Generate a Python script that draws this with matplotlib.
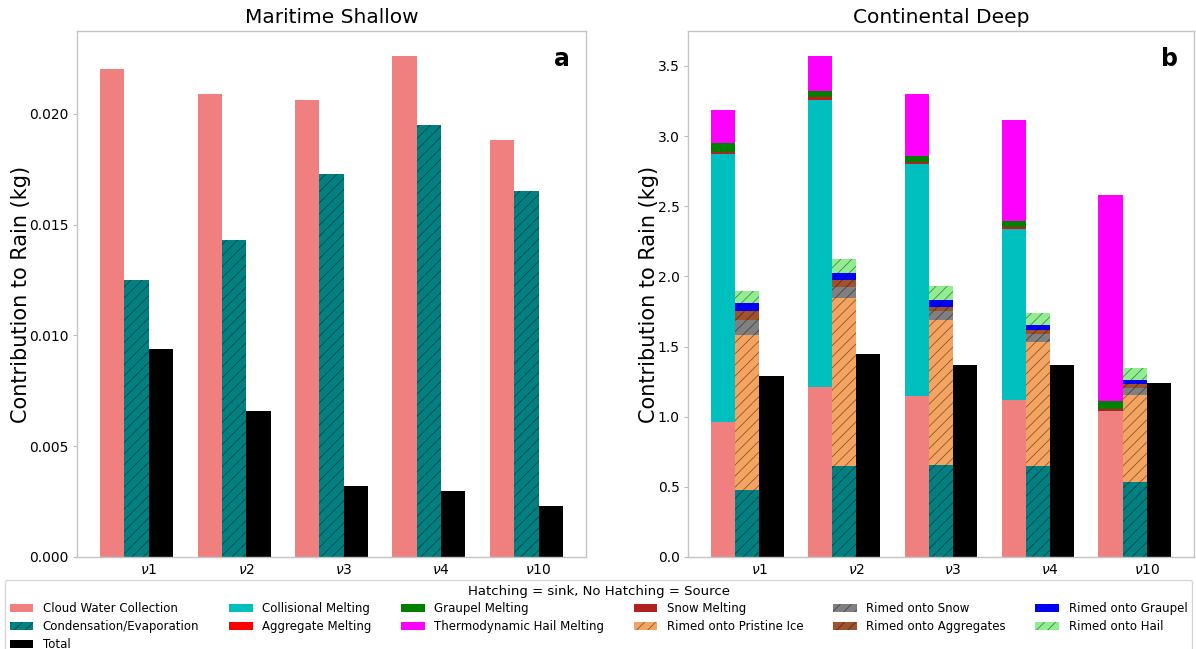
import matplotlib
matplotlib.use("Agg")
import matplotlib.pyplot as plt
import numpy as np

plt.rcParams["font.family"] = ["DejaVu Sans"]
plt.rcParams["hatch.linewidth"] = 0.6

# ---- cases ----
cases = [r"$\nu$1", r"$\nu$2", r"$\nu$3", r"$\nu$4", r"$\nu$10"]

# ---- Maritime Shallow (kg) ----
ms_cloud_water = [0.0220, 0.0209, 0.0206, 0.0226, 0.0188]
ms_cond_evap = [0.0125, 0.0143, 0.0173, 0.0195, 0.0165]
ms_total = [0.0094, 0.0066, 0.0032, 0.0030, 0.0023]

# ---- Continental Deep (kg): sources ----
cd_cloud_water = [0.96, 1.21, 1.15, 1.12, 1.04]
cd_collisional = [1.91, 2.05, 1.65, 1.22, 0.00]
cd_aggregate_melt = [0.004, 0.004, 0.003, 0.003, 0.004]
cd_snow_melt = [0.011, 0.011, 0.009, 0.009, 0.011]
cd_graupel_melt = [0.066, 0.044, 0.047, 0.040, 0.054]
cd_hail_melt = [0.236, 0.251, 0.442, 0.723, 1.474]

# ---- Continental Deep (kg): sinks ----
cd_cond_evap = [0.48, 0.65, 0.655, 0.648, 0.531]
cd_rime_pristine = [1.103, 1.198, 1.032, 0.885, 0.622]
cd_rime_snow = [0.105, 0.078, 0.066, 0.059, 0.052]
cd_rime_aggregates = [0.066, 0.047, 0.029, 0.028, 0.026]
cd_rime_graupel = [0.057, 0.053, 0.047, 0.036, 0.029]
cd_rime_hail = [0.088, 0.095, 0.100, 0.083, 0.087]
cd_total = [1.29, 1.45, 1.37, 1.37, 1.24]

W = 0.25
HATCH_EC = (0.0, 0.0, 0.0, 0.45)


def style_axes(ax, title, letter, yfmt):
    ax.set_title(title, fontsize=14.5, pad=6)
    ax.set_ylabel("Contribution to Rain (kg)", fontsize=15, labelpad=-1)
    ax.set_xticks(np.arange(len(cases)))
    ax.set_xticklabels(cases)
    ax.tick_params(axis="x", length=0, labelsize=10, pad=4)
    ax.tick_params(axis="y", length=3, color="#bbbbbb", labelsize=10, pad=3)
    ax.yaxis.set_major_formatter(plt.FormatStrFormatter(yfmt))
    for s in ax.spines.values():
        s.set_color("#c4c4c4")
        s.set_linewidth(1.0)
    ax.text(0.952, 0.947, letter, transform=ax.transAxes, fontsize=17,
            fontweight="bold", ha="center", va="center")


def bar(ax, x, h, color, bottom=None, hatch=None, label=None):
    if hatch:
        return ax.bar(x, h, W, bottom=bottom, align="edge", color=color,
                      hatch=hatch, edgecolor=HATCH_EC, linewidth=0, label=label)
    return ax.bar(x, h, W, bottom=bottom, align="edge", color=color,
                  linewidth=0, label=label)


fig = plt.figure(figsize=(11.96, 6.49), dpi=100)
ax_a = fig.add_axes([77 / 1196, 92 / 649, 509 / 1196, 526 / 649])
ax_b = fig.add_axes([688 / 1196, 92 / 649, 506 / 1196, 526 / 649])

x = np.arange(len(cases))

# ---- panel a ----
bar(ax_a, x - 2 * W, ms_cloud_water, "lightcoral")
bar(ax_a, x - W, ms_cond_evap, "teal", hatch="///")
bar(ax_a, x, ms_total, "black")
style_axes(ax_a, "Maritime Shallow", "a", "%.3f")

# ---- panel b: source column ----
src = [
    (cd_cloud_water, "lightcoral", "Cloud Water Collection"),
    (cd_collisional, "c", "Collisional Melting"),
    (cd_aggregate_melt, "red", "Aggregate Melting"),
    (cd_snow_melt, "firebrick", "Snow Melting"),
    (cd_graupel_melt, "green", "Graupel Melting"),
    (cd_hail_melt, "magenta", "Thermodynamic Hail Melting"),
]
handles = {}
base = np.zeros(len(cases))
for vals, col, lab in src:
    handles[lab] = bar(ax_b, x - 2 * W, vals, col, bottom=base, label=lab)
    base = base + np.array(vals)

# ---- panel b: sink column ----
snk = [
    (cd_cond_evap, "teal", "Condensation/Evaporation"),
    (cd_rime_pristine, "sandybrown", "Rimed onto Pristine Ice"),
    (cd_rime_snow, "gray", "Rimed onto Snow"),
    (cd_rime_aggregates, "sienna", "Rimed onto Aggregates"),
    (cd_rime_graupel, "blue", "Rimed onto Graupel"),
    (cd_rime_hail, "lightgreen", "Rimed onto Hail"),
]
base = np.zeros(len(cases))
for vals, col, lab in snk:
    handles[lab] = bar(ax_b, x - W, vals, col, bottom=base, hatch="///", label=lab)
    base = base + np.array(vals)

handles["Total"] = bar(ax_b, x, cd_total, "black", label="Total")
style_axes(ax_b, "Continental Deep", "b", "%.1f")

order = [
    "Cloud Water Collection", "Condensation/Evaporation", "Total",
    "Collisional Melting", "Aggregate Melting",
    "Graupel Melting", "Thermodynamic Hail Melting",
    "Snow Melting", "Rimed onto Pristine Ice",
    "Rimed onto Snow", "Rimed onto Aggregates",
    "Rimed onto Graupel", "Rimed onto Hail",
]
fig.legend([handles[k] for k in order], order, ncol=6,
           loc="upper left", mode="expand",
           bbox_to_anchor=(5 / 1196, 0, 1187 / 1196, 1 - 580 / 649),
           fontsize=8.5, title="Hatching = sink, No Hatching = Source",
           title_fontsize=9.5, frameon=True, edgecolor="#cccccc",
           borderaxespad=0, handlelength=2.0, labelspacing=0.4)

fig.savefig("out.png", dpi=100, facecolor="white")
